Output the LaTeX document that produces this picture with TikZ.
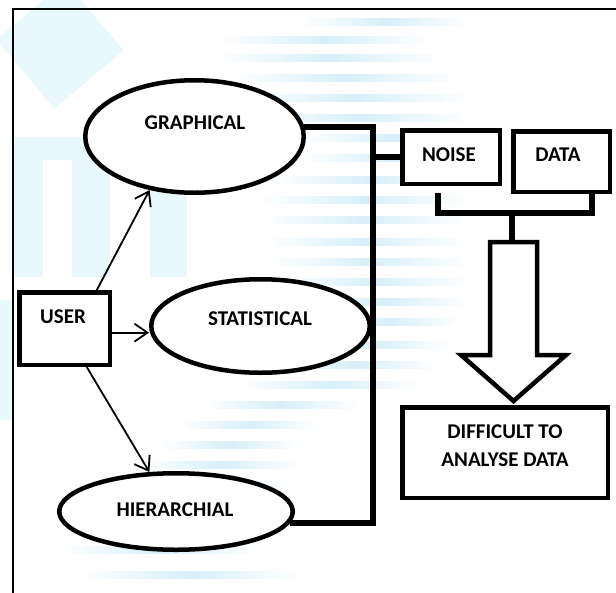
\documentclass[tikz,border=0pt]{standalone}
\usepackage{fontspec}
\setmainfont{Carlito}
\usetikzlibrary{arrows.meta,shapes.geometric}
\definecolor{wmblue}{RGB}{216,239,249}
\definecolor{wmcyan}{RGB}{233,248,252}
\tikzset{
  oval/.style={ellipse, draw, line width=4.5pt, fill=white, inner sep=0pt},
  box/.style={rectangle, draw, line width=4.5pt, fill=white, inner sep=0pt},
  lbl/.style={font=\bfseries\fontsize{21}{28}\selectfont, inner sep=0pt, align=center},
  bus/.style={line width=6pt, line join=miter, line cap=butt},
  feed/.style={line width=1.8pt, -{Straight Barb[length=13pt,width=18pt,line width=1.8pt]}},
  blockarrow/.style={draw, fill=white, line width=4.5pt, line join=miter},
}
\newcommand{\wmstripe}[3]{%
  \shade[left color=white, right color=wmblue] (#1,#3-3.5) rectangle ({(#1+#2)/2},#3+3.5);
  \shade[left color=wmblue, right color=white] ({(#1+#2)/2},#3-3.5) rectangle (#2,#3+3.5);
}
\begin{document}
\begin{tikzpicture}[x=1pt, y=-1pt]
\useasboundingbox (0,0) rectangle (616,592);
\fill[white] (0,0) rectangle (616,592);

% faint background watermark
\fill[wmcyan, rotate around={40:(60,45)}] (15,0) rectangle (105,90);
\fill[wmcyan] (13,137) rectangle (110,277);
\fill[white] (43,160) rectangle (72,277);
\fill[wmcyan] (150,137) rectangle (187,277);
\fill[wmcyan] (0,300) rectangle (14,420);
\foreach \xa/\xb/\yy in {300/470/22, 220/430/40, 215/445/58, 230/460/78, 240/470/98,
  250/470/118, 300/480/138, 300/480/158, 270/470/180, 260/470/200, 260/470/220,
  265/465/242, 270/470/262, 280/470/282, 300/470/302, 320/460/322, 300/450/345,
  270/440/365, 240/420/385, 200/360/405, 180/320/425, 160/300/445, 140/300/465,
  130/290/485, 110/260/505, 90/240/525, 60/260/550, 80/300/575}
  {\wmstripe{\xa}{\xb}{\yy}}

% outer frame
\draw[line width=2pt] (13,600) -- (13,9) -- (625,9);

% method ellipses and user box
\node[oval, minimum width=218.5pt, minimum height=112.5pt] (g) at (194.5,136.5) {};
\node[oval, minimum width=218.5pt, minimum height=93.5pt]  (s) at (260.5,326) {};
\node[oval, minimum width=233.5pt, minimum height=76.5pt]  (h) at (176,511.5) {};
\node[box, minimum width=90.5pt, minimum height=72.5pt]    (user) at (64.5,328.5) {};

\node[lbl] (gt) at (195,123) {GRAPHICAL};
\node[lbl] (st) at (260,319) {STATISTICAL};
\node[lbl] (ht) at (175,510) {HIERARCHIAL};
\node[lbl] (ut) at (63,317) {USER};

% user feeds the three methods
\draw[feed] (user.50) -- (g.230);
\draw[feed] (user.-5) -- (user.-5 -| s.west);
\draw[feed] (user.-60) -- (h.124);

% right hand boxes
\node[box, minimum width=97.5pt, minimum height=53.5pt]  (noise) at (451,157) {};
\node[box, minimum width=96.5pt, minimum height=60.5pt]  (data)  at (561.5,161.5) {};
\node[box, minimum width=205.5pt, minimum height=90.5pt] (diff)  at (505,452.5) {};
\node[lbl] (nt) at (449,155) {NOISE};
\node[lbl] (dt) at (558,155) {DATA};
\node[lbl] (dft) at (505,446) {DIFFICULT TO\\ANALYSE DATA};

% bus joining the methods to the noise box
\coordinate (jt) at (373,127);
\coordinate (jb) at (373,523);
\draw[bus] (jt -| g.5) -- (jt) -- (jb) -- (jb -| h.-6);
\draw[bus] (jt |- noise.west) -- (noise.west);

% bracket under noise and data
\coordinate (nl) at (438,193);
\coordinate (bl) at (438,213);
\coordinate (br) at (592,213);
\coordinate (bm) at (512,213);
\coordinate (atop) at (512,242);
\draw[bus, line width=5.5pt] (nl) -- (bl) -- (br) -- (br |- data.south);
\draw[bus, line width=5.5pt] (bm) -- (atop);

% hollow block arrow down to the result box
\draw[blockarrow] (490,242) -- (537,242) -- (537,355) -- (566,355) -- (513.5,401)
  -- (461,355) -- (490,355) -- cycle;
\end{tikzpicture}
\end{document}
